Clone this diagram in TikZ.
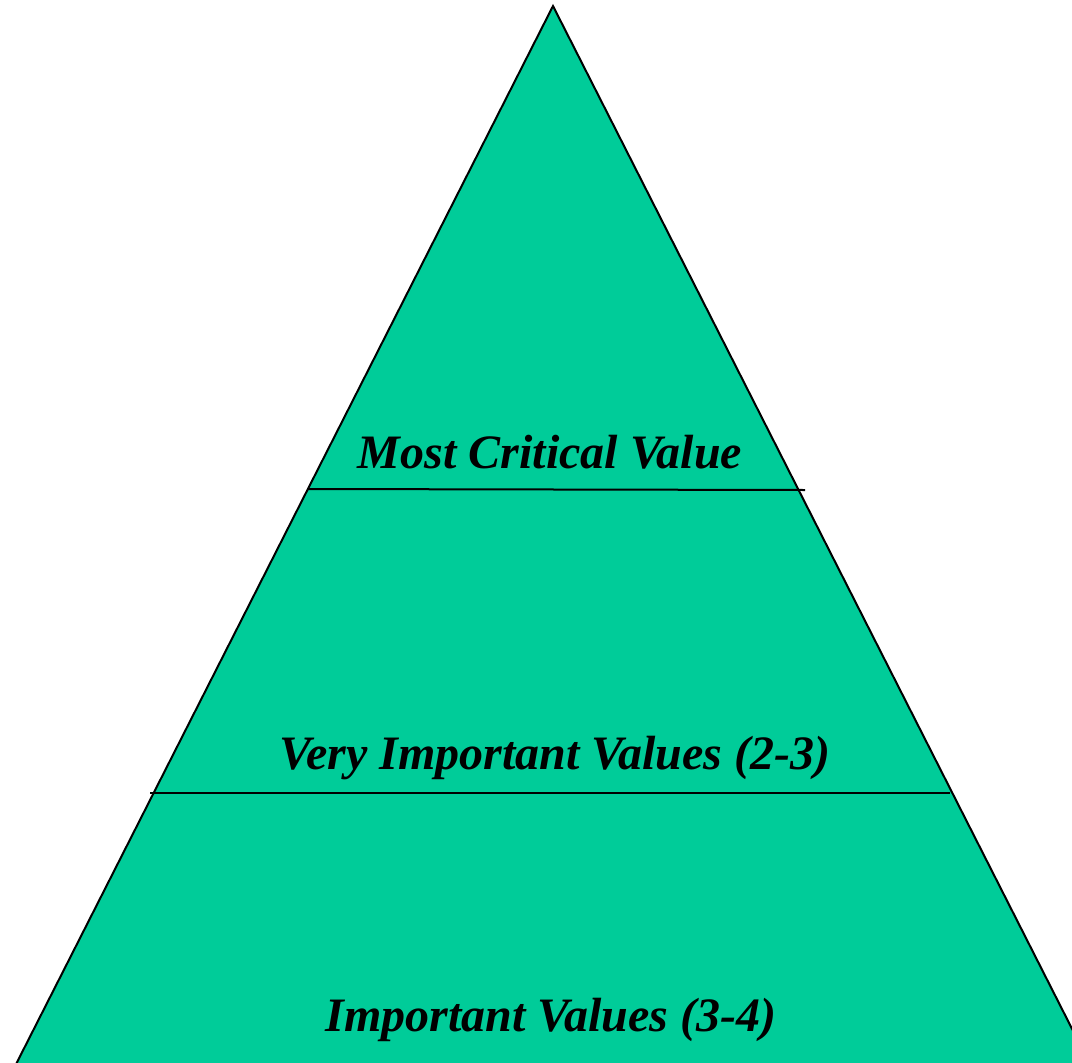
\documentclass[tikz,border=0pt]{standalone}
\usepackage{fontspec}
\setmainfont{Liberation Serif}
\usepackage{tikz}
\usetikzlibrary{positioning}
\definecolor{pyramidgreen}{HTML}{00CC99}
\tikzstyle{level} = [text centered, font=\fontsize{48}{57}\selectfont\bfseries\itshape, inner sep=0pt]
\tikzstyle{divider} = [line width=2pt, draw=black]
\begin{document}
\begin{tikzpicture}[x=1pt, y=-1pt]
\useasboundingbox (0,0) rectangle (1072,1063);
\clip (0,0) rectangle (1072,1063);
\draw [line width=2pt, fill=pyramidgreen] (553,6) -- (8,1080) -- (1098,1080) -- cycle;
\draw [divider] (307,489) -- (805,490);
\draw [divider] (150,793) -- (950,793);
\node (L1) [level] at (550,452) {Most Critical Value};
\node (L2) [level] at (555,758) {Very Important Values (2-3)};
\node (L3) [level] at (551,1020) {Important Values (3-4)};
\end{tikzpicture}
\end{document}
